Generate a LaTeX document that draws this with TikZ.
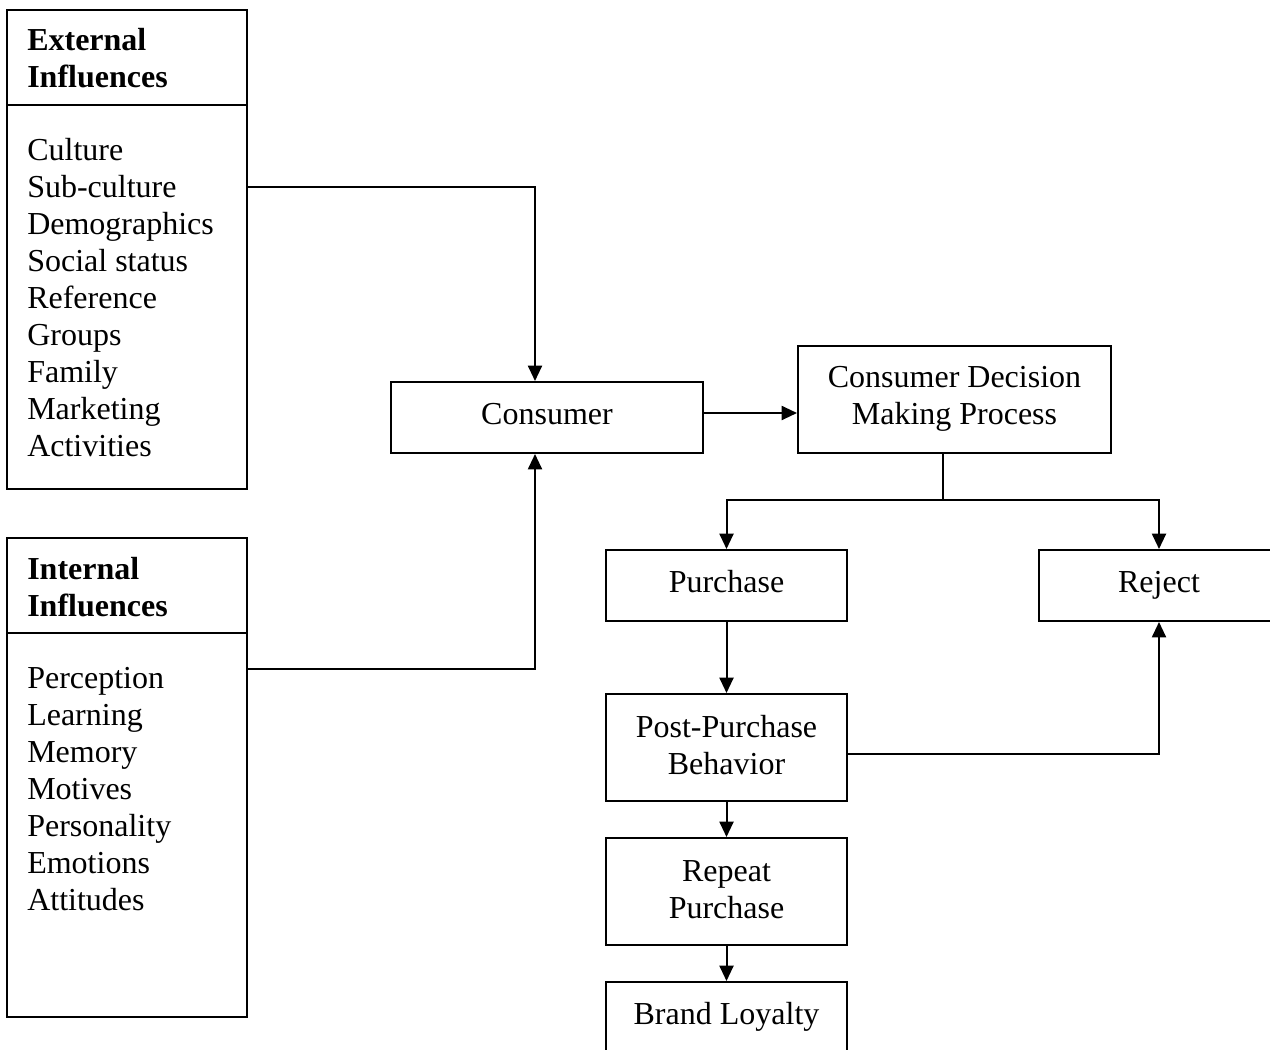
\documentclass[tikz,border=0pt]{standalone}
\usepackage{fontspec}
\setmainfont{Liberation Serif}
\usetikzlibrary{arrows.meta}
\tikzset{
  box/.style={draw, line width=1.5pt, inner sep=0pt, minimum width=#1},
  box/.default=180pt,
  tx/.style={inner sep=0pt, font=\fontsize{24pt}{27.75pt}\selectfont, align=center, anchor=base},
  lst/.style={inner sep=0pt, font=\fontsize{24pt}{27.75pt}\selectfont, align=left, anchor=base west},
  arr/.style={line width=1.5pt, -{Triangle[length=11.5pt,width=10.5pt]}},
  ln/.style={line width=1.5pt}
}
\begin{document}
\begin{tikzpicture}[x=0.75pt, y=-0.75pt]
\useasboundingbox (0,0) rectangle (1270,1049);
\clip (0,0) rectangle (1270,1049);
% left boxes
\node[box=180pt, minimum height=71.25pt] (exthead) at (127,57.5) {};
\node[box=180pt, minimum height=288pt] (extbody) at (127,297) {};
\node[box=180pt, minimum height=71.25pt] (inthead) at (127,585.5) {};
\node[box=180pt, minimum height=288pt] (intbody) at (127,825) {};
% multi-line texts are anchored at the baseline of their last line
\node[lst, font=\fontsize{24pt}{27.75pt}\selectfont\bfseries] (extht) at (27,88) {External\\Influences};
\node[lst] (extbt) at (27,456) {Culture\\Sub-culture\\Demographics\\Social status\\Reference\\Groups\\Family\\Marketing\\Activities};
\node[lst, font=\fontsize{24pt}{27.75pt}\selectfont\bfseries] (intht) at (27,616) {Internal\\Influences};
\node[lst] (intbt) at (27,910) {Perception\\Learning\\Memory\\Motives\\Personality\\Emotions\\Attitudes};
% process boxes
\node[box=234pt, minimum height=53.25pt] (cons) at (547,417.5) {};
\node[tx] (const) at (547,424) {Consumer};
\node[box=234.75pt, minimum height=80.25pt] (cdmp) at (954.5,399.5) {};
\node[tx] (cdmpt) at (954.5,424) {Consumer Decision\\Making Process};
\node[box=180.75pt, minimum height=53.25pt] (purch) at (726.5,585.5) {};
\node[tx] (purcht) at (726.5,592) {Purchase};
\node[box=180pt, minimum height=53.25pt] (reject) at (1159,585.5) {};
\node[tx] (rejectt) at (1159,592) {Reject};
\node[box=180.75pt, minimum height=80.25pt] (post) at (726.5,747.5) {};
\node[tx] (postt) at (726.5,774) {Post-Purchase\\Behavior};
\node[box=180.75pt, minimum height=80.25pt] (repeat) at (726.5,891.5) {};
\node[tx] (repeatt) at (726.5,918) {Repeat\\Purchase};
\node[box=180.75pt, minimum height=53.25pt] (brand) at (726.5,1017.5) {};
\node[tx] (brandt) at (726.5,1024) {Brand Loyalty};
% connectors
\coordinate (j1) at (535,187);
\coordinate (j2) at (535,669);
\coordinate (j3) at (750,413);
\coordinate (j4) at (943,500);
\coordinate (j5) at (1159,754);
\draw[arr] (extbody.east |- j1) -- (j1) -- (cons.north -| j1);
\draw[arr] (intbody.east |- j2) -- (j2) -- (cons.south -| j2);
\draw[arr] (cons.east |- j3) -- (cdmp.west |- j3);
\draw[ln] (cdmp.south -| j4) -- (j4);
\draw[arr] (j4) -| (purch.north);
\draw[arr] (j4) -| (reject.north);
\draw[arr] (purch.south) -- (post.north);
\draw[arr] (post.east |- j5) -- (j5) -- (reject.south);
\draw[arr] (post.south) -- (repeat.north);
\draw[arr] (repeat.south) -- (brand.north);
\end{tikzpicture}
\end{document}
